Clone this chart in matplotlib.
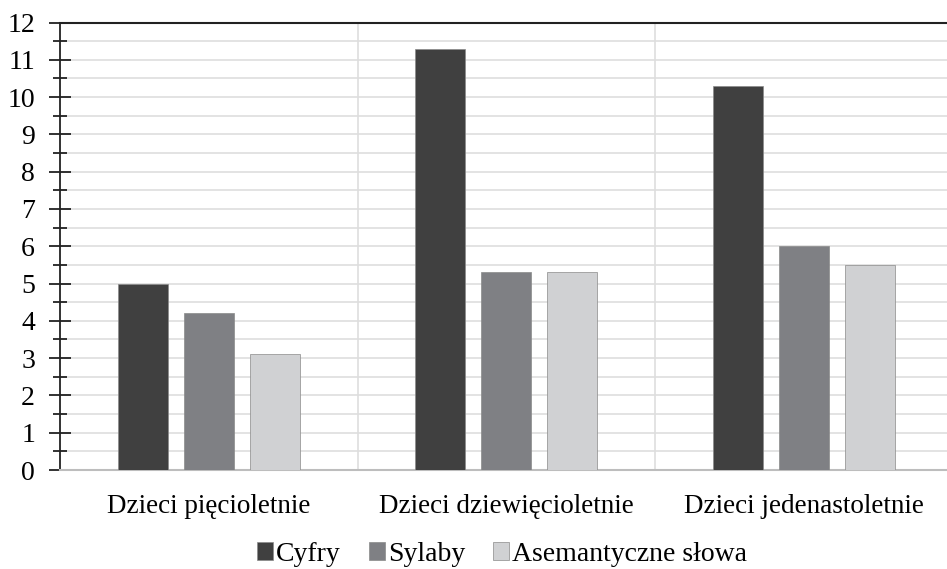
import numpy as np
import matplotlib.pyplot as plt
from matplotlib.ticker import MultipleLocator

plt.rcParams['font.family'] = 'serif'
plt.rcParams['font.serif'] = ['Liberation Serif', 'DejaVu Serif']

# dane
grupy = ['Dzieci pięcioletnie', 'Dzieci dziewięcioletnie', 'Dzieci jedenastoletnie']
serie = ['Cyfry', 'Sylaby', 'Asemantyczne słowa']
cyfry = [5.0, 11.3, 10.3]
sylaby = [4.2, 5.3, 6.0]
asem = [3.1, 5.3, 5.5]
kolory = ['#404040', '#7f8084', '#d0d1d3']

fig = plt.figure(figsize=(9.47, 5.69), dpi=100)
ax = fig.add_axes([60 / 947, 1 - 470 / 569, (952.5 - 60) / 947, (470 - 22.5) / 569])

x = np.arange(len(grupy))
w = 0.168
off = 0.222
for i, (vals, lab) in enumerate(zip([cyfry, sylaby, asem], serie)):
    ax.bar(x + (i - 1) * off, vals, width=w, color=kolory[i], label=lab,
           edgecolor='#8a8a8a', linewidth=0.5, zorder=3)

ax.set_xlim(-0.5, 2.5)
ax.set_ylim(0, 12)
ax.yaxis.set_major_locator(MultipleLocator(1))
ax.yaxis.set_minor_locator(MultipleLocator(0.5))
ax.grid(axis='y', which='both', color='#dedede', linewidth=1.2, zorder=0)
for xs in [0.5, 1.5]:
    ax.axvline(xs, color='#dedede', linewidth=1.2, zorder=0)

ax.spines['right'].set_visible(False)
ax.spines['top'].set_color('#222222')
ax.spines['top'].set_linewidth(1.5)
ax.spines['left'].set_color('#222222')
ax.spines['left'].set_linewidth(1.3)
ax.spines['bottom'].set_color('#bdbdbd')
ax.spines['bottom'].set_linewidth(1.5)

ax.tick_params(axis='y', which='major', direction='inout', length=16, width=1.3,
               color='#222222', labelsize=20, pad=10)
ax.tick_params(axis='y', which='minor', direction='inout', length=10, width=1.3,
               color='#222222')
ax.set_xticks(x)
ax.set_xticklabels(grupy, fontsize=19.5)
ax.tick_params(axis='x', length=0, pad=17)

fig.legend(loc='lower center', bbox_to_anchor=(502 / 947, -0.04), ncol=3, frameon=False,
           fontsize=20, handlelength=0.58, handleheight=0.58, handletextpad=0.11,
           columnspacing=1.0)

fig.savefig('out.png', dpi=100)
